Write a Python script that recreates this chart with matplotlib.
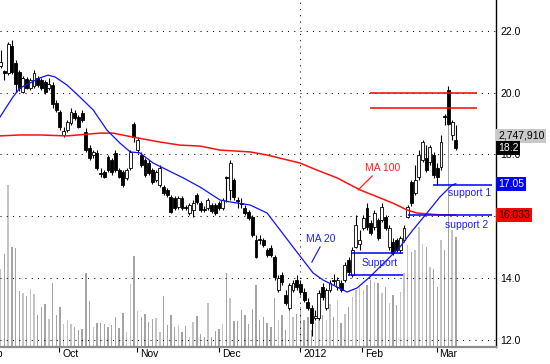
import matplotlib
matplotlib.use("Agg")
import matplotlib.pyplot as plt
import matplotlib.transforms as mtransforms
import numpy as np

plt.rcParams['font.family'] = ['Liberation Sans', 'DejaVu Sans']

# ---------------- data ----------------
opens = [20.87, 20.70, 20.64, 21.51, 20.96, 20.67, 20.02, 20.44, 20.15, 20.22,
         20.48, 20.41, 20.35, 20.15, 20.25, 19.67, 19.37, 18.63, 18.79, 19.02,
         19.34, 19.21, 19.34, 18.73, 18.21, 17.98, 18.05, 17.40, 17.43, 17.92,
         17.82, 18.05, 17.49, 17.43, 17.23, 17.56, 18.99, 18.14, 17.98, 17.82,
         17.72, 17.49, 17.17, 17.01, 16.94, 16.85, 16.62, 16.59, 16.30, 16.59,
         16.30, 16.10, 16.20, 16.68, 16.43, 16.23, 16.26, 16.36, 16.36, 16.43,
         16.26, 17.27, 16.85, 17.17, 16.52, 16.43, 16.26, 16.13, 15.97, 15.23,
         15.25, 15.23, 14.90, 14.97, 14.67, 13.60, 14.09, 13.44, 13.02, 13.60,
         13.93, 13.80, 13.54, 13.22, 13.02, 12.70, 12.70, 13.70, 13.02, 13.60,
         13.93, 13.70, 13.83, 13.93, 14.58, 14.09, 15.00, 15.10, 15.61, 16.26,
         15.78, 15.65, 15.87, 15.87, 15.97, 15.00, 15.16, 15.23, 14.90, 15.23,
         15.97, 17.11, 16.75, 17.27, 17.82, 17.88, 17.75, 17.98, 17.56, 17.59,
         19.24, 20.09, 18.63, 18.47]
highs = [21.38, 20.74, 21.64, 21.71, 21.06, 20.74, 20.54, 20.51, 20.48, 20.74,
         20.54, 20.48, 20.41, 20.48, 20.35, 19.76, 19.44, 18.89, 19.12, 19.50,
         19.44, 19.28, 19.44, 18.86, 18.30, 18.14, 18.14, 17.56, 17.49, 17.98,
         17.88, 18.14, 17.56, 17.49, 17.56, 18.14, 19.05, 18.56, 18.08, 17.88,
         17.82, 17.56, 17.49, 17.66, 17.01, 16.91, 16.68, 16.65, 16.65, 16.65,
         16.36, 16.43, 16.52, 16.75, 16.49, 16.33, 16.59, 16.43, 16.43, 16.49,
         16.59, 17.30, 17.82, 17.23, 16.62, 16.59, 16.36, 16.20, 16.04, 15.39,
         15.39, 15.29, 14.97, 15.06, 14.74, 14.09, 14.19, 13.60, 13.83, 13.93,
         14.09, 13.93, 13.67, 13.35, 13.12, 12.96, 13.60, 13.83, 13.67, 13.93,
         14.12, 14.03, 13.93, 14.51, 14.67, 15.00, 16.04, 15.55, 16.04, 16.43,
         15.87, 16.20, 15.94, 16.43, 16.04, 15.71, 15.29, 15.29, 15.36, 15.71,
         16.36, 17.17, 17.66, 18.14, 18.47, 18.30, 18.30, 18.08, 17.72, 18.63,
         19.31, 20.22, 19.12, 18.95]
lows = [20.80, 20.41, 20.57, 20.61, 20.02, 20.06, 19.99, 20.12, 20.09, 20.15,
        20.18, 20.09, 19.96, 20.09, 19.50, 19.37, 18.79, 18.56, 18.73, 18.95,
        19.12, 18.86, 19.05, 18.08, 17.82, 17.88, 17.49, 17.27, 17.23, 17.43,
        17.33, 17.43, 17.23, 16.94, 17.17, 17.49, 18.40, 18.05, 17.59, 17.27,
        17.33, 17.04, 17.11, 16.94, 16.68, 16.62, 16.10, 16.20, 16.23, 16.20,
        16.20, 16.04, 15.97, 16.39, 16.13, 16.13, 16.20, 16.10, 16.04, 16.20,
        16.20, 16.46, 16.52, 16.52, 16.26, 16.26, 16.04, 15.87, 15.32, 14.64,
        15.10, 15.00, 14.67, 14.67, 13.93, 13.54, 13.77, 13.12, 12.96, 13.54,
        13.60, 13.44, 13.22, 12.96, 12.11, 12.63, 12.63, 13.28, 12.96, 13.54,
        13.77, 13.60, 13.54, 13.86, 14.09, 14.03, 14.97, 14.90, 15.55, 15.55,
        15.39, 15.55, 15.23, 15.81, 15.55, 14.90, 14.74, 14.84, 14.80, 15.16,
        15.94, 16.33, 16.68, 17.17, 17.75, 17.43, 17.66, 17.23, 17.01, 17.49,
        18.95, 18.95, 18.47, 18.14]
closes = [21.00, 20.64, 21.58, 20.67, 20.28, 20.15, 20.48, 20.15, 20.41, 20.64,
          20.25, 20.15, 20.02, 20.28, 19.63, 19.44, 18.89, 18.76, 19.05, 19.37,
          19.18, 18.89, 19.12, 18.14, 17.88, 18.08, 17.56, 17.36, 17.27, 17.49,
          17.43, 17.49, 17.27, 17.01, 17.49, 18.08, 18.56, 18.47, 17.66, 17.33,
          17.40, 17.11, 17.43, 17.56, 16.75, 16.68, 16.13, 16.26, 16.59, 16.26,
          16.26, 16.36, 16.43, 16.46, 16.20, 16.20, 16.52, 16.17, 16.10, 16.26,
          16.52, 17.23, 17.72, 16.62, 16.49, 16.39, 16.10, 15.94, 15.39, 14.67,
          15.22, 15.06, 14.74, 14.74, 14.03, 13.99, 13.86, 13.18, 13.77, 13.83,
          13.70, 13.54, 13.28, 13.02, 12.53, 12.76, 13.51, 13.38, 13.60, 13.83,
          13.90, 13.93, 13.60, 14.41, 14.19, 14.90, 15.71, 15.23, 15.94, 15.65,
          15.45, 16.10, 15.29, 16.30, 15.61, 15.61, 14.80, 14.90, 15.29, 15.61,
          16.30, 16.43, 17.17, 17.98, 18.40, 17.49, 18.24, 17.33, 17.27, 18.40,
          19.21, 18.99, 19.05, 18.20]
volume_m = [1.95, 2.33, 4.05, 2.50, 2.48, 1.40, 1.35, 1.28, 1.45, 1.33,
            0.80, 1.00, 1.08, 0.70, 1.60, 0.80, 1.00, 0.58, 0.68, 0.58,
            0.50, 0.43, 0.45, 1.85, 1.15, 0.50, 0.60, 0.60, 0.58, 0.50,
            0.55, 0.75, 0.48, 0.85, 0.38, 1.58, 2.28, 0.90, 0.75, 0.83,
            0.63, 0.70, 0.73, 0.38, 1.28, 0.55, 0.80, 0.50, 0.55, 0.38,
            0.53, 0.25, 0.63, 0.78, 0.33, 0.25, 1.10, 0.25, 0.40, 0.45,
            0.58, 1.85, 1.23, 0.65, 0.65, 0.93, 0.80, 0.58, 0.95, 1.55,
            0.68, 0.75, 0.60, 0.50, 1.23, 0.68, 0.80, 0.43, 0.93, 0.75,
            0.83, 1.00, 0.68, 0.75, 0.43, 0.63, 1.10, 0.80, 0.68, 1.08,
            0.75, 1.18, 0.60, 0.83, 1.00, 1.25, 1.43, 1.50, 1.43, 1.55,
            1.68, 1.63, 1.60, 1.35, 1.50, 1.10, 1.30, 1.05, 1.38, 1.85,
            2.55, 2.38, 2.43, 3.00, 2.58, 2.50, 2.00, 1.95, 1.50, 2.68,
            2.43, 5.75, 2.93, 2.74791]

ma20_idx = [-0.2, 3.3, 5.2, 10.6, 12.8, 14.7, 17.9, 21.4, 25.0, 28.7, 32.2, 35.0,
            37.6, 41.2, 46.6, 49.3, 53.9, 59.3, 62.0, 67.4, 72.0, 75.5, 79.0,
            81.7, 84.4, 87.1, 90.9, 93.6, 96.3, 99.8, 104.4, 107.9, 111.4,
            115.2, 118.7, 122.0, 123.0]
ma20_val = [19.21, 19.86, 20.15, 20.48, 20.57, 20.51, 20.25, 19.86, 19.44, 18.79,
            18.37, 18.08, 18.05, 17.72, 17.40, 17.24, 16.94, 16.52, 16.46, 16.36,
            16.10, 15.55, 15.00, 14.58, 14.16, 13.93, 13.70, 13.54, 13.67, 14.03,
            14.58, 15.00, 15.55, 16.10, 16.62, 17.01, 17.05]
ma100_idx = [-0.2, 5.2, 10.6, 17.9, 26.8, 30.4, 35.8, 43.1, 48.5, 53.9, 59.3,
             67.4, 72.0, 80.9, 85.5, 90.9, 97.1, 102.5, 106.0, 109.8, 112.5,
             118.7, 123.0]
ma100_val = [18.60, 18.63, 18.63, 18.60, 18.69, 18.69, 18.56, 18.40, 18.30, 18.27,
             18.14, 18.08, 17.98, 17.72, 17.49, 17.24, 16.85, 16.59, 16.42, 16.20,
             16.10, 16.04, 16.033]

resistance_levels = [20.0, 19.5]
support1_level = 17.01
support2_level = 16.03
support_band = [14.80, 14.09]

month_pos = [-5.2, 15.8, 36.9, 59.0, 80.9, 97.7, 117.8]
month_labels = ['Sep', 'Oct', 'Nov', 'Dec', '2012', 'Feb', 'Mar']
price_ticks = [12, 14, 16, 18, 20, 22]
price_labels = ['12.0', '14.0', '', '18.0', '20.0', '22.0']

# ---------------- figure ----------------
W, H = 550, 364
fig = plt.figure(figsize=(W / 100, H / 100), dpi=100)
rect = [0, 17 / H, 496 / W, 347 / H]
xlim = (-0.19, 133.86)
ylim = (11.757, 23.005)

o = np.array(opens); h = np.array(highs); l = np.array(lows); c = np.array(closes)
vol = np.array(volume_m) * 1e6
idx = np.arange(len(c))
up = c >= o

# volume panel (behind)
axv = fig.add_axes(rect)
axv.bar(idx, vol, width=0.38, color=np.where(up, '#c4c4c4', '#a4a4a4'), linewidth=0)
axv.set_xlim(*xlim)
axv.set_ylim(0, 8.675e6)
axv.axis('off')

ax = fig.add_axes(rect)
ax.set_facecolor('none')

dot = (0, (1, 5))
for p in price_ticks:
    ax.axhline(p, color='black', lw=0.75, ls=dot, zorder=1)
ax.axvline(month_pos[4], color='black', lw=0.75, ls=dot, zorder=1)

# candles
ax.vlines(idx, l, h, color='black', lw=0.8, zorder=3)
body = np.maximum(np.abs(c - o), 0.015)
ax.bar(idx, body, bottom=np.minimum(o, c), width=0.78,
       color=np.where(up, 'white', 'black'), edgecolor='black', linewidth=0.6, zorder=4)

# moving averages
ax.plot(ma100_idx, ma100_val, color='#ff1010', lw=1.1, zorder=5)
ax.plot(ma20_idx, ma20_val, color='#1010ff', lw=0.9, zorder=5)

# drawn levels
for lv in resistance_levels:
    ax.hlines(lv, 99.8, 128.7, color='#ff0000', lw=1.1, zorder=6)
ax.hlines(support1_level, 116.8, 132.8, color='#0000ff', lw=1.1, zorder=6)
ax.hlines(support2_level, 110.0, 132.8, color='#0000ff', lw=1.1, zorder=6)
ax.hlines(support_band[0], 94.7, 108.7, color='#0000ff', lw=1.1, zorder=6)
ax.hlines(support_band[1], 93.9, 108.7, color='#0000ff', lw=1.1, zorder=6)

fs = 7.5
blue = '#2020ff'
ax.text(103.3, 17.56, 'MA 100', color='#ff2020', fontsize=fs, ha='center', va='center', zorder=7)
ax.plot([100.4, 96.6], [17.30, 16.85], color='#ff2020', lw=0.9, zorder=7)
ax.text(86.6, 15.26, 'MA 20', color=blue, fontsize=fs, ha='center', va='center', zorder=7)
ax.plot([86.3, 84.1], [15.0, 14.51], color=blue, lw=0.9, zorder=7)
ax.text(102.5, 14.48, 'Support', color=blue, fontsize=fs, ha='center', va='center', zorder=7)
ax.text(126.6, 16.75, 'support 1', color=blue, fontsize=fs, ha='center', va='center', zorder=7)
ax.text(125.8, 15.71, 'support 2', color=blue, fontsize=fs, ha='center', va='center', zorder=7)

# axes styling
for s in ['top', 'left']:
    ax.spines[s].set_visible(False)
ax.spines['right'].set_color('black')
ax.spines['right'].set_linewidth(1.0)
ax.spines['bottom'].set_color('#8c8c8c')
ax.spines['bottom'].set_linewidth(1.6)

ax.yaxis.tick_right()
ax.set_yticks(price_ticks)
ax.set_yticklabels(price_labels, fontsize=fs)
ax.tick_params(axis='y', length=0, pad=3)

ax.set_xticks(month_pos)
ax.set_xticklabels([])
ax.tick_params(axis='x', length=3.5, width=0.8, color='black', direction='out')

# limits last (set_xticks may expand the view)
ax.set_xlim(*xlim)
ax.set_ylim(*ylim)

trans = mtransforms.blended_transform_factory(ax.transData, ax.transAxes)
trans_off = mtransforms.offset_copy(trans, fig=fig, x=3, y=-2, units='dots')
for p, lab in zip(month_pos, month_labels):
    ax.text(p, 0, lab, transform=trans_off, fontsize=fs, ha='left', va='top', clip_on=False)

# right-side value boxes
rtrans = mtransforms.blended_transform_factory(ax.transAxes, ax.transData)
def valbox(y, s, fc, tc):
    ax.text(1.004, y, s, transform=rtrans, fontsize=fs, color=tc, ha='left', va='center',
            clip_on=False, zorder=20,
            bbox=dict(boxstyle='square,pad=0.18', fc=fc, ec='none'))

valbox(18.6, f'{int(round(vol[-1])):,}', '#c8c8c8', 'black')
valbox(closes[-1], f'{closes[-1]:.1f}', 'black', 'white')
valbox(ma20_val[-1], f'{ma20_val[-1]:.2f}', '#0000ff', 'white')
valbox(ma100_val[-1], f'{ma100_val[-1]:.3f}', '#ff0000', 'black')

fig.savefig('out.png', dpi=100)
